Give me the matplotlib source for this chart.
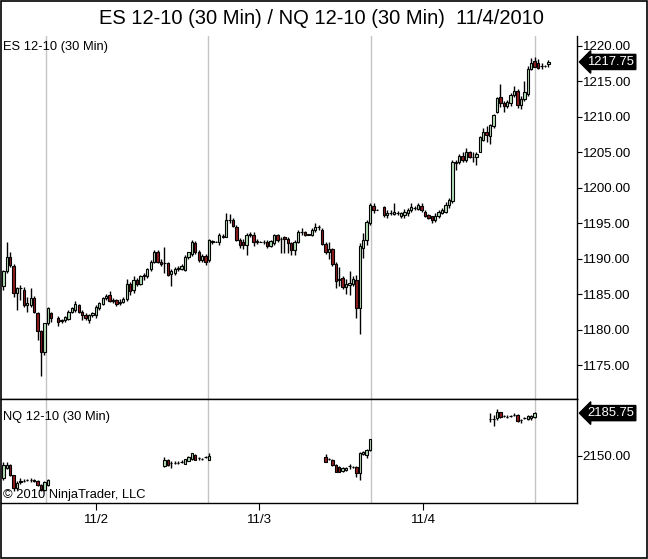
import matplotlib
matplotlib.use('Agg')
import matplotlib.pyplot as plt
import numpy as np
from matplotlib.transforms import blended_transform_factory

plt.rcParams['font.family'] = ['Liberation Sans', 'DejaVu Sans']

nan = float('nan')

# ---------------- ES 12-10 (30 Min) ----------------
es_open = [
 1186.1, 1188.2, 1190.3, 1188.9, 1185.2, 1185.9, 1185.6, 1183.5, 1183.5, 1184.5,
 1182.3, 1179.8, 1176.9, 1180.9, 1182.3, nan, 1181.6, 1181.2, 1181.3, 1181.5,
 1182.5, 1182.7, 1183.4, 1182.5, 1182.0, 1181.3, 1182.0, 1182.0, 1183.0, 1183.6,
 1184.4, 1184.9, 1184.1, 1184.2, 1183.8, 1183.9, 1184.3, 1186.5, 1185.6, 1187.0,
 1186.5, 1187.5, 1187.6, 1188.5, 1189.6, 1190.9, 1189.6, 1189.4, 1189.4, 1187.8,
 1188.0, 1188.6, 1188.6, 1188.4, 1190.3, 1190.6, 1192.2, 1191.0, 1189.8, 1190.4,
 1189.8, 1192.5, 1192.4, 1192.4, 1193.1, 1193.1, 1195.5, 1195.5, 1194.5, 1192.6,
 1192.3, 1191.9, 1193.4, 1193.4, 1192.4, 1192.4, 1192.4, 1192.4, 1191.8, 1192.2,
 1193.3, 1192.8, 1193.0, 1192.8, 1192.2, 1191.2, 1192.4, 1193.7, 1193.7, 1193.4,
 1193.4, 1194.0, 1194.5, 1194.1, 1192.1, 1190.9, 1191.3, 1189.3, 1187.0, 1187.3,
 1186.0, 1186.3, 1186.4, 1187.0, 1183.1, 1191.5, 1192.6, 1195.0, 1197.4, 1196.9,
 nan, 1197.3, 1196.2, 1196.4, 1196.3, 1196.5, 1196.0, 1196.1, 1196.5, 1196.8,
 1197.2, 1197.0, 1197.5, 1196.6, 1196.1, 1196.0, 1195.4, 1196.0, 1196.5, 1196.6,
 1197.6, 1198.1, 1203.6, 1203.6, 1204.5, 1203.9, 1205.0, 1204.4, 1204.3, 1205.1,
 1206.8, 1207.9, 1207.3, 1208.7, 1210.7, 1212.8, 1212.0, 1211.6, 1212.0, 1213.1,
 1213.7, 1211.7, 1212.5, 1213.2, 1216.8, 1217.9, 1217.6, 1217.2, 1217.2, 1217.5]
es_high = [
 1188.4, 1192.4, 1191.0, 1189.2, 1186.0, 1186.3, 1186.0, 1184.6, 1185.8, 1184.8,
 1182.5, 1180.0, 1181.0, 1183.2, 1182.5, nan, 1181.9, 1181.5, 1181.9, 1182.7,
 1183.2, 1184.0, 1183.6, 1182.7, 1182.3, 1182.2, 1182.5, 1183.5, 1183.9, 1184.6,
 1185.0, 1185.4, 1184.4, 1184.3, 1184.3, 1184.6, 1187.1, 1186.7, 1187.5, 1187.3,
 1187.7, 1188.0, 1188.7, 1189.8, 1191.2, 1191.2, 1190.0, 1191.7, 1189.6, 1188.6,
 1188.8, 1189.0, 1189.2, 1190.5, 1191.0, 1192.7, 1192.5, 1191.2, 1190.7, 1190.6,
 1192.8, 1192.7, 1192.5, 1193.6, 1193.5, 1196.4, 1196.3, 1195.8, 1194.7, 1192.9,
 1192.8, 1193.6, 1193.7, 1193.8, 1192.8, 1192.5, 1192.6, 1192.6, 1192.7, 1193.5,
 1193.5, 1193.1, 1193.2, 1193.0, 1192.4, 1192.6, 1194.0, 1194.3, 1193.9, 1193.5,
 1194.3, 1195.0, 1194.8, 1194.3, 1192.3, 1192.4, 1191.5, 1189.5, 1188.8, 1187.5,
 1187.2, 1188.3, 1187.6, 1187.7, 1192.2, 1193.6, 1195.5, 1197.8, 1197.8, 1197.0,
 nan, 1197.5, 1196.8, 1196.9, 1197.9, 1196.7, 1196.6, 1197.0, 1197.2, 1197.8,
 1197.5, 1197.9, 1197.9, 1196.8, 1196.3, 1196.0, 1196.4, 1196.8, 1197.1, 1198.0,
 1198.5, 1203.9, 1203.9, 1204.8, 1205.0, 1205.6, 1205.2, 1205.1, 1205.0, 1207.3,
 1208.5, 1208.7, 1209.0, 1210.4, 1212.8, 1214.7, 1212.2, 1212.4, 1213.4, 1214.4,
 1213.9, 1212.9, 1215.0, 1217.2, 1218.3, 1218.4, 1218.2, 1217.6, 1217.3, 1218.0]
es_low = [
 1185.6, 1188.0, 1188.8, 1184.6, 1182.8, 1184.2, 1183.2, 1182.5, 1183.2, 1182.3,
 1178.5, 1173.5, 1176.4, 1180.7, 1181.1, nan, 1180.5, 1180.9, 1181.1, 1181.3,
 1182.3, 1182.5, 1182.3, 1181.3, 1181.3, 1181.0, 1181.8, 1181.7, 1182.8, 1183.4,
 1184.2, 1183.9, 1183.7, 1183.3, 1183.5, 1183.7, 1184.1, 1184.9, 1185.2, 1186.2,
 1186.3, 1187.0, 1187.3, 1188.3, 1189.4, 1189.4, 1189.0, 1188.0, 1187.5, 1186.1,
 1187.7, 1188.2, 1188.4, 1188.2, 1190.0, 1190.4, 1190.7, 1189.6, 1189.5, 1189.1,
 1189.6, 1192.1, 1192.3, 1192.0, 1192.9, 1193.0, 1195.0, 1194.4, 1192.5, 1191.5,
 1191.3, 1190.5, 1193.1, 1191.8, 1192.1, 1192.3, 1192.1, 1191.5, 1191.6, 1192.0,
 1192.4, 1190.8, 1190.8, 1190.8, 1190.5, 1190.5, 1192.2, 1193.3, 1193.2, 1193.3,
 1193.2, 1193.8, 1194.0, 1192.0, 1190.7, 1190.0, 1189.0, 1185.8, 1186.1, 1185.7,
 1185.0, 1184.9, 1186.2, 1181.6, 1179.4, 1190.1, 1192.0, 1194.8, 1196.5, 1196.8,
 nan, 1195.9, 1195.7, 1196.2, 1196.2, 1196.1, 1195.8, 1195.8, 1196.0, 1196.6,
 1196.9, 1196.8, 1196.6, 1195.9, 1195.6, 1195.0, 1195.2, 1195.8, 1196.3, 1196.5,
 1197.2, 1197.9, 1202.5, 1203.4, 1203.7, 1203.6, 1204.2, 1203.7, 1203.2, 1205.0,
 1206.6, 1206.5, 1206.2, 1208.4, 1210.5, 1211.4, 1210.7, 1211.2, 1211.6, 1212.8,
 1211.2, 1211.1, 1212.3, 1213.0, 1216.6, 1217.0, 1216.8, 1216.8, 1217.1, 1217.1]
es_close = [
 1188.2, 1190.3, 1189.1, 1185.2, 1185.9, 1185.9, 1183.5, 1183.8, 1184.5, 1182.5,
 1179.8, 1176.9, 1180.9, 1183.0, 1181.6, nan, 1181.1, 1181.3, 1181.8, 1182.5,
 1183.1, 1183.6, 1182.5, 1182.0, 1181.6, 1182.0, 1182.3, 1183.2, 1183.7, 1184.4,
 1184.7, 1184.0, 1184.2, 1183.6, 1183.9, 1184.3, 1186.5, 1185.5, 1187.0, 1186.5,
 1187.5, 1187.7, 1188.5, 1189.6, 1190.9, 1189.6, 1189.3, 1189.4, 1187.7, 1188.3,
 1188.6, 1188.6, 1189.0, 1190.3, 1190.9, 1192.4, 1191.0, 1189.8, 1190.4, 1189.6,
 1192.6, 1192.4, 1192.4, 1193.3, 1193.2, 1195.4, 1195.5, 1194.6, 1192.6, 1191.9,
 1191.9, 1193.4, 1193.5, 1192.4, 1192.5, 1192.4, 1192.4, 1191.8, 1192.5, 1193.3,
 1192.6, 1192.8, 1192.8, 1192.2, 1191.2, 1192.4, 1193.8, 1193.7, 1193.4, 1193.4,
 1194.0, 1194.5, 1194.5, 1192.1, 1190.9, 1191.3, 1189.3, 1186.8, 1187.2, 1186.0,
 1186.5, 1186.6, 1187.1, 1183.1, 1191.8, 1192.6, 1195.2, 1197.6, 1196.9, 1196.9,
 nan, 1196.2, 1196.5, 1196.4, 1196.6, 1196.4, 1196.5, 1196.6, 1196.9, 1197.3,
 1197.2, 1197.6, 1196.9, 1196.0, 1195.8, 1195.4, 1196.0, 1196.6, 1196.9, 1197.6,
 1198.3, 1203.7, 1203.5, 1204.5, 1203.9, 1205.1, 1204.4, 1204.3, 1204.8, 1207.1,
 1207.9, 1207.4, 1208.8, 1210.2, 1212.6, 1212.0, 1211.6, 1212.1, 1213.1, 1213.6,
 1211.7, 1212.5, 1213.5, 1216.8, 1217.6, 1217.1, 1216.9, 1217.2, 1217.2, 1217.75]

# ---------------- NQ 12-10 (30 Min) ----------------
nq_bars = list(range(0, 14)) + list(range(47, 61)) + list(range(94, 108)) + list(range(142, 156))
nq_open = [
 2131.4, 2140.0, 2142.5, 2134.2, 2123.5, 2128.5, 2129.4, 2129.6, 2130.0, 2129.6, 2129.4, 2125.8, 2121.7, 2125.8,
 2141.7, 2146.7, 2143.9, 2144.4, 2144.4, 2145.3, 2143.3, 2146.1, 2147.2, 2150.8, 2148.1, 2147.2, 2149.0, 2146.7,
 2149.4, 2147.2, 2146.7, 2142.5, 2141.0, 2137.5, 2138.0, 2141.7, 2140.8, 2141.1, 2135.6, 2151.7, 2150.8, 2155.0,
 2180.8, 2180.8, 2181.4, 2186.4, 2183.3, 2182.8, 2183.3, 2184.2, 2184.2, 2180.0, 2181.4, 2180.6, 2181.9, 2182.5]
nq_high = [
 2145.3, 2145.3, 2143.0, 2134.5, 2129.0, 2131.5, 2130.5, 2131.0, 2132.0, 2130.5, 2130.0, 2126.5, 2129.0, 2131.0,
 2148.9, 2147.5, 2145.8, 2145.5, 2145.5, 2146.5, 2147.5, 2149.7, 2152.8, 2151.5, 2149.0, 2148.5, 2150.0, 2152.2,
 2151.7, 2148.0, 2147.5, 2143.0, 2141.7, 2141.0, 2140.5, 2143.3, 2141.7, 2141.7, 2153.6, 2154.5, 2155.5, 2164.2,
 2185.6, 2184.2, 2188.9, 2187.0, 2184.5, 2184.0, 2184.5, 2186.0, 2184.8, 2181.0, 2182.5, 2184.0, 2183.8, 2186.5]
nq_low = [
 2130.0, 2139.5, 2133.5, 2121.0, 2122.0, 2127.0, 2128.5, 2129.0, 2128.5, 2128.6, 2125.0, 2121.0, 2121.0, 2125.0,
 2141.1, 2142.0, 2139.7, 2143.5, 2143.5, 2144.0, 2143.0, 2145.8, 2147.0, 2146.3, 2147.0, 2146.5, 2148.0, 2146.3,
 2145.0, 2146.5, 2142.0, 2136.5, 2136.5, 2137.0, 2137.5, 2138.9, 2140.0, 2132.8, 2130.0, 2151.0, 2148.1, 2154.5,
 2178.6, 2175.0, 2180.0, 2181.7, 2182.5, 2182.0, 2182.5, 2183.0, 2178.3, 2177.8, 2180.5, 2180.3, 2180.0, 2181.5]
nq_close = [
 2142.5, 2142.5, 2134.2, 2123.1, 2127.5, 2129.4, 2129.4, 2130.0, 2130.0, 2129.4, 2125.8, 2121.7, 2128.6, 2130.0,
 2146.7, 2142.5, 2143.9, 2144.4, 2144.4, 2145.3, 2147.2, 2149.4, 2152.2, 2146.7, 2148.1, 2147.2, 2149.0, 2150.0,
 2145.3, 2147.2, 2142.5, 2136.9, 2137.0, 2140.0, 2140.0, 2141.7, 2140.8, 2135.6, 2152.2, 2153.6, 2155.0, 2163.9,
 2180.8, 2180.8, 2186.9, 2182.2, 2183.3, 2182.8, 2183.3, 2184.2, 2179.0, 2180.0, 2181.4, 2183.3, 2183.3, 2185.75]

session_breaks = [12.5, 59.8, 107.2, 155.2]
date_ticks = [27.1, 74.7, 122.5]
date_labels = ['11/2', '11/3', '11/4']
es_ticks = [1175, 1180, 1185, 1190, 1195, 1200, 1205, 1210, 1215, 1220]
nq_ticks = [2150]

title = 'ES 12-10 (30 Min) / NQ 12-10 (30 Min)  11/4/2010'

UP = '#b8e0b8'
DOWN = '#8e1b1b'
GRID = '#c4c4c4'

W, H = 648, 559
fig = plt.figure(figsize=(W / 100, H / 100), dpi=100)
fig.patch.set_facecolor('white')


def fx(px):
    return px / W


def fy(py):
    return 1 - py / H


ax1 = fig.add_axes([fx(1), fy(399), fx(577) - fx(1), fy(36) - fy(399)])
ax2 = fig.add_axes([fx(1), fy(503), fx(577) - fx(1), fy(399) - fy(503)])

XL = (-0.671, 167.35)


def candles(ax, xs, o, h, l, c, width=0.7):
    xs = np.asarray(xs, float)
    o = np.asarray(o, float); h = np.asarray(h, float)
    l = np.asarray(l, float); c = np.asarray(c, float)
    ok = ~np.isnan(c)
    xs, o, h, l, c = xs[ok], o[ok], h[ok], l[ok], c[ok]
    ax.vlines(xs, l, h, colors='black', lw=1.0, zorder=2)
    bottom = np.minimum(o, c)
    height = np.maximum(np.abs(c - o), 0.02)
    cols = [UP if cc >= oo else DOWN for oo, cc in zip(o, c)]
    ax.bar(xs, height, bottom=bottom, width=width, color=cols,
           edgecolor='black', linewidth=0.8, zorder=3)


es_x = np.arange(len(es_close))
candles(ax1, es_x, es_open, es_high, es_low, es_close)
candles(ax2, nq_bars, nq_open, nq_high, nq_low, nq_close)

for ax in (ax1, ax2):
    ax.set_xlim(*XL)
    for xb in session_breaks:
        ax.axvline(xb, color=GRID, lw=1.0, zorder=1)
    ax.yaxis.tick_right()
    ax.tick_params(axis='y', direction='out', length=3.3, width=0.8,
                   pad=0.8, labelsize=9.6, colors='black')
    ax.spines['left'].set_visible(False)
    for s in ('right', 'bottom', 'top'):
        ax.spines[s].set_linewidth(1.0)
        ax.spines[s].set_color('black')
    ax.set_facecolor('white')

ax1.spines['top'].set_visible(False)

ax1.set_ylim(1170.21, 1221.41)
ax1.set_yticks(es_ticks)
ax1.set_yticklabels(['%.2f' % t for t in es_ticks])
ax1.set_xticks([])

ax2.set_ylim(2110.83, 2197.5)
ax2.set_yticks(nq_ticks)
ax2.set_yticklabels(['%.2f' % t for t in nq_ticks])
ax2.set_xticks(date_ticks)
ax2.set_xticklabels(date_labels)
ax2.tick_params(axis='x', direction='out', length=5, width=0.8, pad=3,
                labelsize=9.5, colors='black')

# last price markers
for ax, val in ((ax1, es_close[-1]), (ax2, nq_close[-1])):
    tr = blended_transform_factory(ax.transAxes, ax.transData)
    ax.text(1.018, val, '%.2f' % val, transform=tr, ha='left', va='center',
            color='white', fontsize=9.4, clip_on=False, zorder=10,
            bbox=dict(boxstyle='larrow,pad=0.12', fc='black', ec='black'))

fig.text(fx(321), fy(18), title, ha='center', va='center', fontsize=14.5)
fig.text(fx(3), fy(47), 'ES 12-10 (30 Min)', ha='left', va='center', fontsize=9.3)
fig.text(fx(3), fy(417), 'NQ 12-10 (30 Min)', ha='left', va='center', fontsize=9.3)
fig.text(fx(3), fy(495), '\u00a9 2010 NinjaTrader, LLC', ha='left', va='center', fontsize=9.3)

# outer frame
fig.add_artist(plt.Rectangle((0.0008, 0.001), 0.9984, 0.998, transform=fig.transFigure,
                             fill=False, edgecolor='black', lw=1.2))

fig.savefig('out.png', dpi=100)
